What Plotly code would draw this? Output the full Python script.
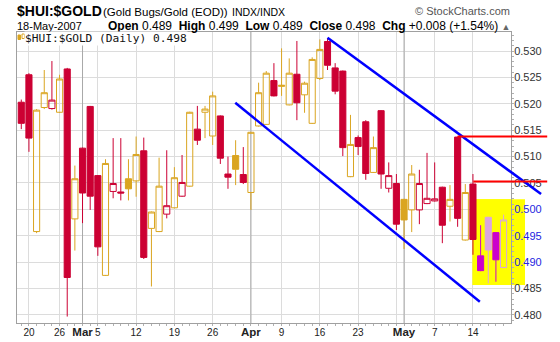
import datetime
import plotly.graph_objects as go

# ---------------- data ----------------
dates = ["2007-02-16", "2007-02-20", "2007-02-21", "2007-02-22", "2007-02-23",
         "2007-02-26", "2007-02-27", "2007-02-28", "2007-03-01", "2007-03-02",
         "2007-03-05", "2007-03-06", "2007-03-07", "2007-03-08", "2007-03-09",
         "2007-03-12", "2007-03-13", "2007-03-14", "2007-03-15", "2007-03-16",
         "2007-03-19", "2007-03-20", "2007-03-21", "2007-03-22", "2007-03-23",
         "2007-03-26", "2007-03-27", "2007-03-28", "2007-03-29", "2007-03-30",
         "2007-04-02", "2007-04-03", "2007-04-04", "2007-04-05", "2007-04-09",
         "2007-04-10", "2007-04-11", "2007-04-12", "2007-04-13", "2007-04-16",
         "2007-04-17", "2007-04-18", "2007-04-19", "2007-04-20", "2007-04-23",
         "2007-04-24", "2007-04-25", "2007-04-26", "2007-04-27", "2007-04-30",
         "2007-05-01", "2007-05-02", "2007-05-03", "2007-05-04", "2007-05-07",
         "2007-05-08", "2007-05-09", "2007-05-10", "2007-05-11", "2007-05-14",
         "2007-05-15", "2007-05-16", "2007-05-17", "2007-05-18"]

opens = [0.5203, 0.5255, 0.4958, 0.5193, 0.5191, 0.5184, 0.5266, 0.4982, 0.5116, 0.5195,
         0.5064, 0.4875, 0.5034, 0.5033, 0.5058, 0.5054, 0.5111, 0.4964, 0.4958, 0.4991,
         0.5003, 0.5025, 0.5044, 0.5152, 0.5184, 0.5139, 0.5177, 0.5067, 0.5102, 0.5066,
         0.5032, 0.5158, 0.5161, 0.5244, 0.5233, 0.5198, 0.5256, 0.5217, 0.5163, 0.5248,
         0.5318, 0.5268, 0.5262, 0.5062, 0.5136, 0.5166, 0.5070, 0.5187, 0.5040, 0.5049,
         0.5019, 0.4999, 0.4999, 0.5011, 0.5016, 0.5042, 0.5006, 0.5137, 0.4942, 0.5048,
         0.4912, 0.4985, 0.4956, 0.4890]
highs = [0.5208, 0.5258, 0.5190, 0.5264, 0.5281, 0.5255, 0.5268, 0.5083, 0.5117, 0.5196,
         0.5065, 0.5095, 0.5135, 0.5135, 0.5095, 0.5138, 0.5136, 0.4996, 0.5098, 0.5112,
         0.5080, 0.5103, 0.5185, 0.5196, 0.5196, 0.5223, 0.5178, 0.5100, 0.5131, 0.5118,
         0.5146, 0.5240, 0.5262, 0.5277, 0.5305, 0.5286, 0.5319, 0.5242, 0.5288, 0.5322,
         0.5324, 0.5277, 0.5263, 0.5179, 0.5140, 0.5169, 0.5138, 0.5188, 0.5089, 0.5067,
         0.5020, 0.5084, 0.5075, 0.5107, 0.5089, 0.5043, 0.5046, 0.5138, 0.5048, 0.5067,
         0.4970, 0.4986, 0.4957, 0.4990]
lows = [0.5152, 0.5109, 0.4955, 0.5190, 0.5189, 0.5183, 0.4797, 0.4922, 0.4974, 0.4999,
        0.4912, 0.4874, 0.5021, 0.5017, 0.5017, 0.5024, 0.4906, 0.4854, 0.4957, 0.4983,
        0.5002, 0.5024, 0.5043, 0.5122, 0.5135, 0.5122, 0.5086, 0.5039, 0.5046, 0.5048,
        0.4999, 0.5157, 0.5160, 0.5214, 0.5215, 0.5197, 0.5169, 0.5183, 0.5162, 0.5245,
        0.5264, 0.5218, 0.5101, 0.5061, 0.5103, 0.5056, 0.5069, 0.5039, 0.5032, 0.4961,
        0.4925, 0.4957, 0.4972, 0.5010, 0.5015, 0.4936, 0.4977, 0.4967, 0.4941, 0.4914,
        0.4883, 0.4860, 0.4863, 0.4890]
closes = [0.5163, 0.5135, 0.5188, 0.5221, 0.5207, 0.5247, 0.4871, 0.5058, 0.5031, 0.5025,
          0.4929, 0.5087, 0.5049, 0.5031, 0.5039, 0.5104, 0.4909, 0.4995, 0.5044, 0.5007,
          0.5060, 0.5051, 0.5184, 0.5131, 0.5190, 0.5215, 0.5097, 0.5061, 0.5076, 0.5051,
          0.5146, 0.5221, 0.5258, 0.5215, 0.5235, 0.5258, 0.5202, 0.5239, 0.5284, 0.5303,
          0.5273, 0.5224, 0.5117, 0.5123, 0.5119, 0.5068, 0.5117, 0.5067, 0.5064, 0.4972,
          0.4980, 0.5067, 0.5049, 0.5021, 0.5020, 0.4970, 0.5019, 0.4983, 0.5032, 0.4943,
          0.4884, 0.4923, 0.49045, 0.4980]
prior_close = 0.5210          # close of the session before the first candle
highlight_from = "2007-05-15"  # candles inside the yellow highlight box

tick_dates = ["2007-02-20", "2007-02-26", "2007-03-01", "2007-03-05", "2007-03-12",
              "2007-03-19", "2007-03-26", "2007-04-02", "2007-04-09", "2007-04-16",
              "2007-04-23", "2007-04-30", "2007-05-01", "2007-05-07", "2007-05-14"]
tick_labels = ["20", "26", "Mar", "5", "12", "19", "26", "Apr", "9", "16", "23", "", "May", "7", "14"]
month_starts = ["2007-03-01", "2007-04-02", "2007-05-01"]
y_ticks = [0.480, 0.485, 0.490, 0.495, 0.500, 0.505, 0.510, 0.515, 0.520, 0.525, 0.530]

# hand-drawn annotations (session index, value)
upper_channel_x = [40.0, 67.9]
upper_channel_y = [0.5325, 0.5029]
lower_channel_x = [27.95, 59.9]
lower_channel_y = [0.5202, 0.4825]
resistance_start = [57.0, 59.05]
resistance_level = [0.5138, 0.5053]
resistance_end = 68.7
box_x = [58.92, 65.8]
box_y = [0.4857, 0.5019]

# ---------------- styling ----------------
RED = "#CC0033"
GOLD = "#DAA520"
MAGENTA = "#CC00CC"
PLUM = "#DAA5DF"
FONT = "Liberation Sans, Arial, sans-serif"

L, R, T, B = 17, 49, 32, 19
W, H = 560, 342
PW, PH = W - L - R, H - T - B
XR = [-0.56, 63.97]
YR = [0.47848, 0.5336]


def xi_to_paper(v):
    return (v - XR[0]) / (XR[1] - XR[0])


def px_x(px):
    return (px - L) / PW


def px_y(py):
    return (H - B - py) / PH


idx = {d: i for i, d in enumerate(dates)}
hl_start = idx[highlight_from]

groups = {}
for i in range(len(dates)):
    prev = closes[i - 1] if i > 0 else prior_close
    up = closes[i] >= prev
    hl = i >= hl_start
    if hl:
        color = PLUM if up else MAGENTA
    else:
        color = GOLD if up else RED
    groups.setdefault(color, []).append(i)

fig = go.Figure()
for color, members in groups.items():
    fig.add_trace(go.Candlestick(
        x=members,
        open=[opens[i] for i in members],
        high=[highs[i] for i in members],
        low=[lows[i] for i in members],
        close=[closes[i] for i in members],
        increasing=dict(fillcolor="rgba(0,0,0,0)", line=dict(color=color, width=1)),
        decreasing=dict(fillcolor=color, line=dict(color=color, width=1)),
        whiskerwidth=0,
        showlegend=False,
        hoverinfo="skip",
    ))

shapes = []
# yellow highlight: inside plot (covers gridlines) and spilling over the axis
shapes.append(dict(type="rect", xref="x", yref="y", x0=box_x[0], x1=box_x[1],
                   y0=box_y[0], y1=box_y[1], fillcolor="#FFFF00", line=dict(width=0),
                   layer="between"))
shapes.append(dict(type="rect", xref="paper", yref="y", x0=xi_to_paper(box_x[0]),
                   x1=xi_to_paper(box_x[1]), y0=box_y[0], y1=box_y[1],
                   fillcolor="#FFFF00", line=dict(width=0), layer="below"))
# darker month gridlines
for d in month_starts:
    shapes.append(dict(type="line", xref="x", yref="y", x0=idx[d], x1=idx[d],
                       y0=YR[0], y1=YR[1], line=dict(color="#A8A8A8", width=1),
                       layer="between"))
# channel lines
for xs, ys in ((upper_channel_x, upper_channel_y), (lower_channel_x, lower_channel_y)):
    shapes.append(dict(type="line", xref="paper", yref="y",
                       x0=xi_to_paper(xs[0]), x1=xi_to_paper(xs[1]), y0=ys[0], y1=ys[1],
                       line=dict(color="#0000FF", width=2.5), layer="above"))
# resistance lines
for xs, lv in zip(resistance_start, resistance_level):
    shapes.append(dict(type="line", xref="paper", yref="y",
                       x0=xi_to_paper(xs), x1=xi_to_paper(resistance_end), y0=lv, y1=lv,
                       line=dict(color="#FF0000", width=2), layer="above"))
# small legend icon
shapes.append(dict(type="rect", xref="paper", yref="paper", x0=px_x(18), x1=px_x(20.5),
                   y0=px_y(39.5), y1=px_y(35), fillcolor=GOLD, line=dict(color=GOLD, width=1)))
shapes.append(dict(type="rect", xref="paper", yref="paper", x0=px_x(22), x1=px_x(24.5),
                   y0=px_y(38.5), y1=px_y(34), fillcolor="white", line=dict(color=GOLD, width=1)))

# y tick labels (those under the highlight turn blue)
y_text = []
for v in y_ticks:
    s = f"{v:.3f}"
    if box_y[0] <= v <= box_y[1]:
        s = f'<span style="color:#2424E0">{s}</span>'
    y_text.append(s)

x_text = []
for lab in tick_labels:
    if lab.isalpha():
        x_text.append(f'<span style="font-size:11.5px"><b>{lab}</b></span>')
    else:
        x_text.append(lab)

last = len(dates) - 1
chg = closes[last] - closes[last - 1]
pct = chg / closes[last - 1] * 100
info = (f"<b>Open</b> {opens[last]:.3f}  <b>High</b> {highs[last]:.3f}  "
        f"<b>Low</b> {lows[last]:.3f}  <b>Close</b> {closes[last]:.3f}  "
        f"<b>Chg</b> {chg:+.3f} ({pct:+.2f}%) "
        f'<span style="color:#666;font-size:9px">▲</span>')

last_dt = datetime.date.fromisoformat(dates[last])
date_str = f"{last_dt.day}-{last_dt.strftime('%b')}-{last_dt.year}"

annotations = [
    dict(text="<b>$HUI:$GOLD</b>", x=px_x(16), y=px_y(11), xanchor="left", yanchor="middle",
         font=dict(family=FONT, size=14, color="#000")),
    dict(text="(Gold Bugs/Gold (EOD))", x=px_x(102), y=px_y(11.5), xanchor="left",
         yanchor="middle", font=dict(family=FONT, size=11.5, color="#000")),
    dict(text="INDX/INDX", x=px_x(231), y=px_y(11.5), xanchor="left", yanchor="middle",
         font=dict(family=FONT, size=10.5, color="#000")),
    dict(text="© StockCharts.com", x=px_x(511), y=px_y(11), xanchor="right",
         yanchor="middle", font=dict(family=FONT, size=11, color="#555")),
    dict(text=date_str, x=px_x(16), y=px_y(25.5), xanchor="left", yanchor="middle",
         font=dict(family=FONT, size=11, color="#000")),
    dict(text=info, x=px_x(511), y=px_y(25.5), xanchor="right", yanchor="middle",
         font=dict(family=FONT, size=12, color="#000")),
    dict(text=f"$HUI:$GOLD (Daily) {closes[last]:.3f}", x=px_x(24), y=px_y(38),
         xanchor="left", yanchor="middle", bgcolor="white",
         font=dict(family="DejaVu Sans Mono, monospace", size=11.2, color="#111")),
]
for a in annotations:
    a.update(xref="paper", yref="paper", showarrow=False, borderpad=0)

fig.update_layout(
    width=W, height=H,
    margin=dict(l=L, r=R, t=T, b=B, pad=0, autoexpand=False),
    paper_bgcolor="white", plot_bgcolor="white",
    showlegend=False,
    boxgap=0.2, boxgroupgap=0,
    shapes=shapes,
    annotations=annotations,
    font=dict(family=FONT, color="#222"),
    xaxis=dict(
        range=XR, tickmode="array", tickvals=[idx[d] for d in tick_dates], ticktext=x_text,
        tickangle=0, automargin=False,
        showgrid=True, gridcolor="#DCDCDC", gridwidth=1, zeroline=False,
        showline=True, linecolor="#A0A0A0", linewidth=1, mirror=True,
        ticks="", tickfont=dict(family=FONT, size=10, color="#222"),
        rangeslider=dict(visible=False), fixedrange=True,
        minor=dict(tickmode="linear", tick0=0, dtick=1, ticks="outside", ticklen=2,
                   tickcolor="#B0B0B0", showgrid=False),
    ),
    yaxis=dict(
        side="right", range=YR, tickmode="array", tickvals=y_ticks, ticktext=y_text,
        automargin=False,
        showgrid=True, gridcolor="#DCDCDC", gridwidth=1, zeroline=False,
        showline=True, linecolor="#A0A0A0", linewidth=1, mirror=True,
        ticks="", tickfont=dict(family=FONT, size=11, color="#333"),
        fixedrange=True,
        minor=dict(tickmode="linear", tick0=0.48, dtick=0.001, ticks="outside", ticklen=2,
                   tickcolor="#B0B0B0", showgrid=False),
    ),
)

fig.write_html("out.html")
